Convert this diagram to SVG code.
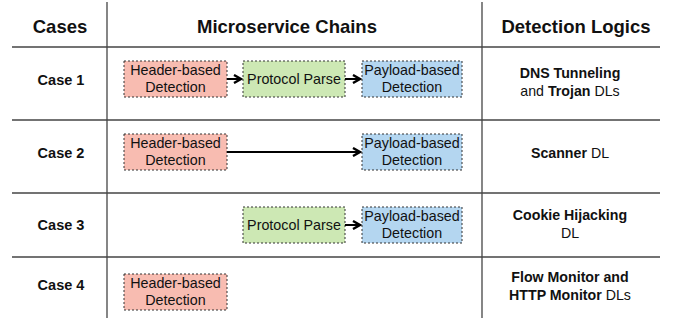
<svg xmlns="http://www.w3.org/2000/svg" width="673" height="322" viewBox="0 0 673 322">
<style>
.grid{stroke:#444;stroke-width:1.3;fill:none}
.hd{font-family:"Liberation Sans",Arial,sans-serif;font-size:18.5px;font-weight:bold;fill:#111;text-anchor:middle}
.case{font-family:"Liberation Sans",Arial,sans-serif;font-size:14.5px;font-weight:bold;fill:#111;text-anchor:middle}
.dl{font-family:"Liberation Sans",Arial,sans-serif;font-size:14.2px;fill:#111;text-anchor:middle}
.b{font-weight:bold}
.box{stroke:#333;stroke-width:1;stroke-dasharray:2,2}
.red{fill:#f8bcb1}
.green{fill:#cde8b4}
.blue{fill:#b4d6f0}
.bt{font-family:"Liberation Sans",Arial,sans-serif;font-size:14.3px;fill:#111;text-anchor:middle}
.conn{stroke:#000;stroke-width:2;fill:none}
</style>
<defs>
<marker id="arr" markerWidth="10" markerHeight="10" refX="8" refY="5" orient="auto" markerUnits="userSpaceOnUse">
<path d="M1,1 L8,5 L1,9" fill="none" stroke="#000" stroke-width="2.4"/>
</marker>
</defs>
<g id="grid">
<line class="grid" x1="107" y1="2" x2="107" y2="318"/>
<line class="grid" x1="482" y1="2" x2="482" y2="318"/>
<line class="grid" x1="12" y1="47" x2="660" y2="47"/>
<line class="grid" x1="12" y1="120" x2="660" y2="120"/>
<line class="grid" x1="12" y1="193" x2="660" y2="193"/>
<line class="grid" x1="12" y1="257" x2="660" y2="257"/>
</g>
<g id="headers">
<text class="hd" x="60" y="33">Cases</text>
<text class="hd" x="287" y="33">Microservice Chains</text>
<text class="hd" x="576" y="33">Detection Logics</text>
</g>
<g id="cases">
<text class="case" x="61" y="85">Case 1</text>
<text class="case" x="61" y="158">Case 2</text>
<text class="case" x="61" y="230">Case 3</text>
<text class="case" x="61" y="290">Case 4</text>
</g>
<g id="r1-header"><rect class="box red" x="124" y="61" width="103" height="36"/><text class="bt" x="175.5" y="75">Header-based</text><text class="bt" x="175.5" y="92">Detection</text></g>
<g id="r1-protocol"><rect class="box green" x="243" y="61" width="102" height="36"/><text class="bt" x="294" y="84">Protocol Parse</text></g>
<g id="r1-payload"><rect class="box blue" x="362" y="61" width="100" height="36"/><text class="bt" x="412" y="75">Payload-based</text><text class="bt" x="412" y="92">Detection</text></g>
<g id="r2-header"><rect class="box red" x="124" y="134" width="103" height="36"/><text class="bt" x="175.5" y="148">Header-based</text><text class="bt" x="175.5" y="165">Detection</text></g>
<g id="r2-payload"><rect class="box blue" x="362" y="134" width="100" height="36"/><text class="bt" x="412" y="148">Payload-based</text><text class="bt" x="412" y="165">Detection</text></g>
<g id="r3-protocol"><rect class="box green" x="243" y="207" width="102" height="36"/><text class="bt" x="294" y="230">Protocol Parse</text></g>
<g id="r3-payload"><rect class="box blue" x="362" y="207" width="100" height="36"/><text class="bt" x="412" y="221">Payload-based</text><text class="bt" x="412" y="238">Detection</text></g>
<g id="r4-header"><rect class="box red" x="124" y="274" width="103" height="36"/><text class="bt" x="175.5" y="288">Header-based</text><text class="bt" x="175.5" y="305">Detection</text></g>
<g id="connectors">
<line class="conn" x1="227" y1="79" x2="241" y2="79" marker-end="url(#arr)"/>
<line class="conn" x1="345" y1="79" x2="360" y2="79" marker-end="url(#arr)"/>
<line class="conn" x1="227" y1="152" x2="360" y2="152" marker-end="url(#arr)"/>
<line class="conn" x1="345" y1="225" x2="360" y2="225" marker-end="url(#arr)"/>
</g>
<g id="logics">
<text class="dl" x="570" y="78"><tspan class="b">DNS Tunneling</tspan></text>
<text class="dl" x="570" y="96">and <tspan class="b">Trojan</tspan> DLs</text>
<text class="dl" x="570" y="158"><tspan class="b">Scanner</tspan> DL</text>
<text class="dl" x="570" y="220"><tspan class="b">Cookie Hijacking</tspan></text>
<text class="dl" x="570" y="238">DL</text>
<text class="dl" x="570" y="282"><tspan class="b">Flow Monitor and</tspan></text>
<text class="dl" x="570" y="300"><tspan class="b">HTTP Monitor</tspan> DLs</text>
</g>
</svg>
